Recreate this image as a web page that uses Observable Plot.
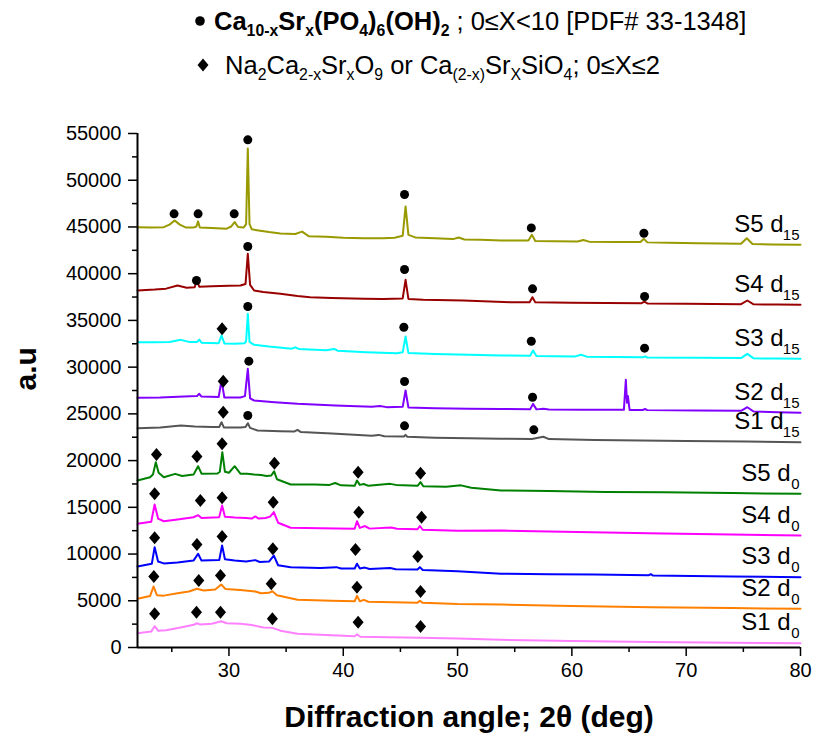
<!DOCTYPE html>
<html><head><meta charset="utf-8">
<script src="https://cdn.jsdelivr.net/npm/d3@7"></script>
<script src="https://cdn.jsdelivr.net/npm/@observablehq/plot@0.6"></script>
<style>
body{margin:0;background:#fff;font-family:"Liberation Sans",Arial,sans-serif;}
#wrap{position:relative;width:814px;height:733px;}
#legend{position:relative;height:95px;}
.lg{position:absolute;font-size:25.5px;white-space:nowrap;line-height:25px;color:#000}
.lg sub{font-size:0.62em;vertical-align:-0.4em;line-height:0}
.lg svg{vertical-align:middle;margin-right:8px;position:relative;top:-2px}
</style></head><body>
<div id="wrap">
<div id="legend">
<div class="lg" style="left:194px;top:9px"><svg width="12" height="12"><circle cx="6" cy="6" r="4.8" fill="#000"/></svg><b>Ca<sub>10-x</sub>Sr<sub>x</sub>(PO<sub>4</sub>)<sub>6</sub>(OH)<sub>2</sub></b> ; 0≤X&lt;10 [PDF# 33-1348]</div>
<div class="lg" style="left:196px;top:53px"><svg width="14" height="16"><path d="M7,1.5L12.5,8L7,14.5L1.5,8Z" fill="#000"/></svg> Na<sub>2</sub>Ca<sub>2-x</sub>Sr<sub>x</sub>O<sub>9</sub> or Ca<sub>(2-x)</sub>Sr<sub>X</sub>SiO<sub>4</sub>; 0≤X≤2</div>
</div>
<div id="chart"></div>
</div>
<script>
// ---- data: [2θ, intensity] ----
const s5d15 = [[22,44970],[23.2,44950],[24.3,44980],[24.8,45250],[25.25,45700],[25.7,45250],[26.2,44950],[26.9,44930],[27.15,45050],[27.3,45600],[27.45,44950],[28.5,44900],[29.8,44820],[30.2,45050],[30.5,45520],[30.8,45000],[31.3,44950],[31.5,45300],[31.65,53400],[31.8,45300],[32.0,44750],[32.6,44620],[33.5,44450],[34.5,44300],[35.8,44250],[36.4,44500],[37.0,44000],[38.5,43950],[40.0,43850],[41.8,43800],[43.5,43780],[44.5,43850],[45.2,44050],[45.45,47200],[45.7,44150],[46.3,43880],[48.0,43800],[49.6,43700],[50.1,43870],[50.6,43660],[52.0,43620],[53.8,43560],[56.2,43550],[56.5,44160],[56.8,43500],[58.5,43460],[60.5,43450],[61.0,43600],[61.5,43430],[64.0,43400],[66.0,43380],[66.3,43730],[66.6,43350],[68.5,43300],[71.0,43250],[73.0,43220],[74.8,43200],[75.3,43790],[75.8,43180],[77.5,43130],[80,43090]];
const s4d15 = [[22,38200],[23.5,38300],[24.5,38400],[25.5,38730],[26.3,38500],[27.0,38550],[27.2,39270],[27.4,38600],[28.5,38650],[30.0,38700],[31.0,38730],[31.45,38900],[31.65,42120],[31.85,38800],[32.2,38200],[33.0,38050],[34.5,37850],[36.0,37600],[37.1,37480],[39.0,37400],[41.8,37310],[43.5,37280],[45.2,37350],[45.45,39340],[45.7,37300],[47.0,37200],[50.5,37130],[54.6,36950],[56.3,36950],[56.55,37480],[56.8,36930],[60.0,36900],[63.0,36870],[66.1,36840],[66.35,37000],[66.6,36820],[70.0,36780],[74.8,36740],[75.35,37130],[75.9,36720],[78.0,36690],[80,36670]];
const s3d15 = [[22,32670],[23.5,32650],[24.8,32700],[25.8,32920],[26.5,32700],[27.2,32680],[27.4,32950],[27.6,32620],[29.1,32560],[29.35,33380],[29.6,32540],[30.5,32500],[31.35,32560],[31.5,32750],[31.65,35700],[31.8,32700],[32.2,32390],[33.5,32200],[35.5,31980],[35.8,32120],[36.1,31950],[38.5,31800],[39.2,31950],[39.5,31760],[42.0,31600],[44.7,31490],[45.2,31600],[45.45,33280],[45.7,31500],[48.0,31400],[51.0,31320],[53.8,31240],[56.35,31220],[56.6,31780],[56.9,31200],[60.3,31150],[60.8,31330],[61.3,31120],[66.2,31050],[66.4,31150],[66.6,31030],[71.0,31000],[74.8,30970],[75.35,31420],[75.9,30940],[78.0,30920],[80,30890]];
const s2d15 = [[22,26720],[24.0,26750],[26.6,26890],[27.2,26900],[27.4,27150],[27.6,26850],[29.1,26800],[29.35,28570],[29.6,26750],[31.0,26750],[31.4,26900],[31.65,29820],[31.85,26650],[32.2,26430],[34.0,26250],[36.0,26070],[39.3,25900],[42.5,25750],[43.2,25850],[43.8,25720],[45.2,25750],[45.45,27500],[45.7,25680],[48.0,25600],[51.0,25550],[53.8,25520],[56.35,25500],[56.6,26070],[56.9,25480],[57.5,25550],[58.0,25470],[61.0,25440],[64.55,25430],[64.72,28640],[64.82,26200],[64.9,26900],[65.05,25420],[66.2,25410],[66.4,25520],[66.6,25400],[71.0,25350],[74.8,25320],[75.35,25710],[75.9,25250],[78.0,25180],[80,25110]];
const s1d15 = [[22,23470],[24.0,23550],[25.8,23750],[27.0,23650],[28.5,23600],[29.15,23600],[29.35,24110],[29.55,23550],[31.0,23550],[31.45,23600],[31.65,24000],[31.85,23500],[32.5,23220],[34.5,23150],[35.7,23100],[36.0,23290],[36.3,23050],[39.0,22900],[42.5,22650],[43.1,22750],[43.6,22600],[45.3,22580],[45.45,22750],[45.6,22550],[48.0,22450],[51.0,22380],[53.8,22330],[56.5,22320],[57.5,22550],[58.0,22300],[62.0,22200],[66.0,22150],[70.0,22100],[75.3,22050],[80,21970]];
const s5d0 = [[22,17870],[23.1,18220],[23.35,18500],[23.6,19830],[23.85,18700],[24.3,18220],[25.3,18580],[25.9,18350],[26.9,18500],[27.3,19400],[27.6,18600],[29.0,18620],[29.2,18800],[29.42,20900],[29.65,18800],[30.0,18700],[30.5,19400],[31.0,18600],[31.6,18580],[32.2,18500],[32.8,18450],[33.3,18350],[33.7,18400],[33.95,18850],[34.2,18000],[35.4,17440],[37.5,17450],[38.8,17400],[39.3,17600],[39.8,17350],[41.0,17300],[41.2,17870],[41.45,17400],[41.8,17500],[42.2,17300],[44.1,17510],[44.6,17400],[46.5,17300],[46.76,17690],[47.0,17250],[49.0,17200],[50.3,17350],[51.2,17100],[53.8,16800],[58.0,16750],[63.0,16650],[68.0,16600],[74.0,16520],[80,16450]];
const s4d0 = [[22,13230],[23.2,13450],[23.5,15300],[23.8,13800],[24.3,13510],[25.5,13700],[26.9,13940],[27.3,14160],[27.6,13850],[29.15,13950],[29.4,15190],[29.65,14000],[30.5,13900],[31.5,13850],[32.0,13800],[32.3,14020],[32.6,13800],[33.2,13850],[33.6,14000],[33.93,14480],[34.3,13350],[35.4,12810],[38.0,12750],[41.0,12700],[41.2,13510],[41.45,12800],[41.9,13000],[42.3,12720],[44.2,12850],[44.7,12700],[46.5,12650],[46.7,13000],[46.95,12600],[50.0,12500],[53.8,12520],[58.0,12400],[63.0,12300],[68.0,12200],[74.0,12100],[80,11980]];
const s3d0 = [[22,8670],[23.25,8950],[23.5,10730],[23.8,9200],[24.3,9000],[25.5,9100],[26.9,9300],[27.3,10030],[27.6,9300],[29.15,9350],[29.4,10910],[29.65,9450],[30.5,9300],[31.5,9200],[32.3,9350],[32.7,9150],[33.5,9200],[33.93,9840],[34.3,8800],[35.4,8590],[38.0,8500],[39.4,8600],[39.8,8450],[41.0,8450],[41.2,8960],[41.45,8450],[41.9,8550],[42.3,8400],[44.1,8500],[44.6,8380],[46.5,8350],[46.7,8600],[46.95,8300],[50.0,8150],[53.8,7890],[58.0,7850],[62.0,7800],[66.7,7720],[66.9,7850],[67.1,7700],[74.0,7600],[80,7520]];
const s2d0 = [[22,5210],[23.1,5500],[23.4,6530],[23.7,5600],[24.3,5550],[25.5,5800],[26.5,6000],[27.2,6280],[27.8,6100],[28.8,6200],[29.33,6740],[29.7,6250],[31.0,6150],[32.3,6000],[32.8,5800],[33.5,5850],[33.8,6020],[34.2,5600],[36.0,5100],[39.0,5000],[41.0,4950],[41.2,5530],[41.45,4950],[41.8,5100],[42.2,4900],[46.5,4800],[46.7,5000],[46.95,4780],[50.0,4650],[53.8,4600],[60.0,4450],[67.0,4300],[74.0,4220],[80,4140]];
const s1d0 = [[22,1530],[23.2,1700],[23.5,2280],[23.8,1800],[24.5,1850],[26.0,2200],[27.0,2450],[27.2,2600],[27.5,2450],[28.5,2550],[29.33,2810],[29.8,2600],[31.0,2540],[32.0,2400],[33.0,2150],[33.8,2100],[34.5,1800],[36.0,1460],[39.0,1300],[41.0,1200],[41.2,1400],[41.5,1150],[44.0,1100],[46.7,1050],[50.0,950],[53.8,820],[60.0,700],[67.0,600],[74.0,520],[80,460]];

const seriesNames = ["S1 d","S2 d","S3 d","S4 d","S5 d","S1 d","S2 d","S3 d","S4 d","S5 d"];
const seriesSubs  = ["0","0","0","0","0","15","15","15","15","15"];
const seriesColors = ["#ff80ff","#ff8000","#0000ff","#ff00ff","#008000","#555555","#8000ff","#00ffff","#990000","#999900"];

// phase markers: [2θ, marker height]
const hapCircles = [[25.2,46400],[27.3,46400],[30.46,46400],[31.65,54320],[45.36,48470],[56.45,44900],[66.3,44330],
  [27.16,39270],[31.65,42910],[45.36,40450],[56.56,38380],[66.36,37560],
  [31.65,36490],[45.3,34270],[56.45,32770],[66.36,32030],
  [31.74,30640],[45.36,28460],[56.56,26780],
  [31.65,24820],[45.36,23720],[56.67,23290]];
const silDiamonds = [[29.4,34100],[29.5,28500],[29.5,25180],
  [23.66,20650],[27.2,20440],[29.4,21800],[33.98,19720],[41.3,18760],[46.76,18650],
  [23.5,16440],[27.5,15730],[29.4,16020],[33.87,15550],[41.36,14480],[46.85,13940],
  [23.5,11740],[27.2,11020],[29.4,11880],[33.84,10560],[41.07,10490],[46.52,9740],
  [23.43,7600],[27.36,7170],[29.26,7700],[33.7,6820],[41.2,6450],[46.76,5990],
  [23.5,3610],[27.16,3780],[29.26,3780],[33.8,3070],[41.3,2710],[46.76,2250]];

const yTicks = [0,5000,10000,15000,20000,25000,30000,35000,40000,45000,50000,55000];
const yMinor = [2500,7500,12500,17500,22500,27500,32500,37500,42500,47500,52500];
const xTicks = [30,40,50,60,70,80];
const xMinor = [25,35,45,55,65,75];

// ---- build ----
const allSeries = [s1d0,s2d0,s3d0,s4d0,s5d0,s1d15,s2d15,s3d15,s4d15,s5d15];
const lineData = allSeries.flatMap((pts,k)=>pts.map(([x,y])=>({x,y,k})));
const ends = allSeries.map((pts,k)=>({x:pts[pts.length-1][0], y:pts[pts.length-1][1], name:seriesNames[k], sub:seriesSubs[k]}));
const circ = hapCircles.map(([x,y])=>({x,y}));
const dia = silDiamonds.map(([x,y])=>({x,y}));

const diamondSym = {draw(ctx,size){const r=Math.sqrt(size/Math.PI);const hy=r,hx=r*0.85;ctx.moveTo(0,-hy);ctx.lineTo(hx,0);ctx.lineTo(0,hy);ctx.lineTo(-hx,0);ctx.closePath();}};

const fmt = d=>String(d);
const chart = Plot.plot({
  width:814, height:638,
  marginTop:38, marginBottom:86, marginLeft:137, marginRight:14,
  x:{domain:[22,80]},
  y:{domain:[0,55000]},
  color:{type:"identity"},
  style:{fontFamily:'"Liberation Sans", Arial, sans-serif', color:"#000", background:"#fff", overflow:"visible"},
  marks:[
    Plot.axisY(yMinor,{tickSize:5, tickFormat:()=>"", label:null, strokeWidth:1.5}),
    Plot.axisY(yTicks,{tickSize:9, tickPadding:7, fontSize:20, tickFormat:fmt, label:null, strokeWidth:1.5}),
    Plot.axisX(xMinor,{tickSize:5, tickFormat:()=>"", label:null, strokeWidth:1.5}),
    Plot.axisX(xTicks,{tickSize:9, tickPadding:6, fontSize:20, tickFormat:fmt, label:null, strokeWidth:1.5}),
    Plot.line(lineData,{x:"x", y:"y", z:"k", stroke:d=>seriesColors[d.k], strokeWidth:2}),
    Plot.dot(circ,{x:"x", y:"y", r:4.5, fill:"#000"}),
    Plot.dot(dia,{x:"x", y:"y", r:6.5, symbol:diamondSym, fill:"#000"}),
    Plot.text(ends.filter(d=>d.sub==="15"),{x:"x", y:"y", text:"name", textAnchor:"end", lineAnchor:"bottom", dx:-17, dy:-13, fontSize:24, fill:"#000"}),
    Plot.text(ends.filter(d=>d.sub==="0"),{x:"x", y:"y", text:"name", textAnchor:"end", lineAnchor:"bottom", dx:-10, dy:-13, fontSize:24, fill:"#000"}),
    Plot.text(ends,{x:"x", y:"y", text:"sub", textAnchor:"end", lineAnchor:"bottom", dx:-1, dy:-5, fontSize:15, fill:"#000"}),
    Plot.ruleX([22],{strokeWidth:2}),
    Plot.ruleY([0],{strokeWidth:2}),
    Plot.text(["Diffraction angle; 2θ (deg)"],{text:d=>d, frameAnchor:"bottom", dy:79, lineAnchor:"bottom", fontSize:30, fontWeight:"bold", fill:"#000"}),
    Plot.text(["a.u"],{text:d=>d, frameAnchor:"left", dx:-111, rotate:-90, lineAnchor:"middle", fontSize:30, fontWeight:"bold", fill:"#000"})
  ]
});
document.getElementById("chart").appendChild(chart);
</script>
</body></html>
